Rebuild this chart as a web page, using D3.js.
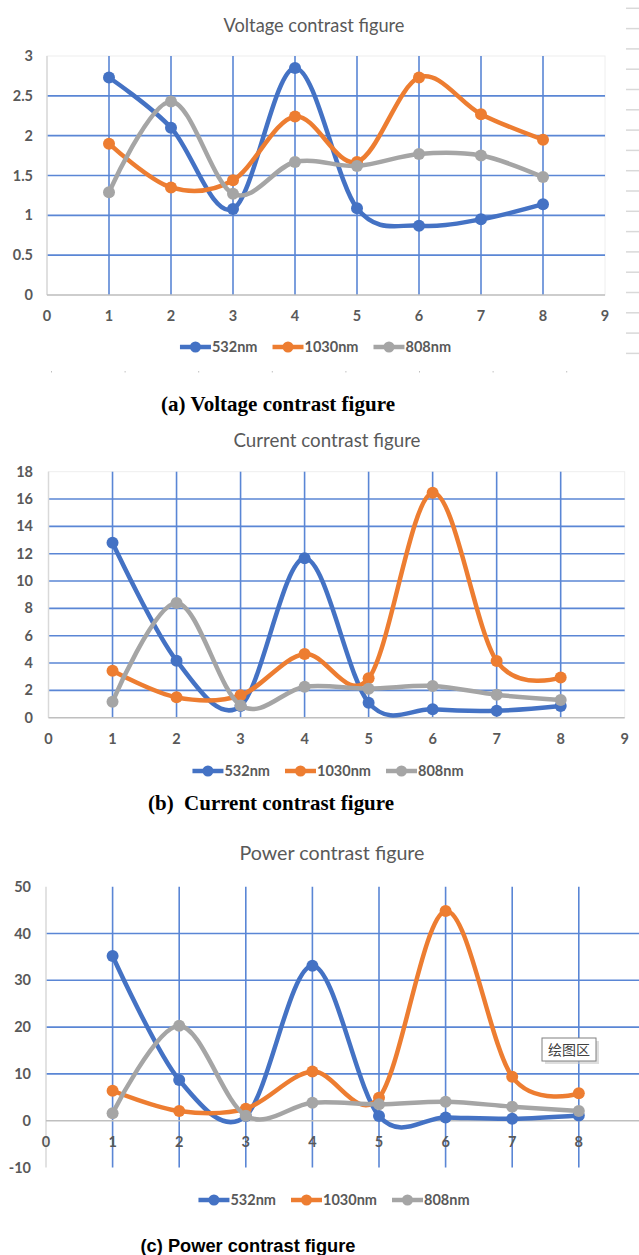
<!DOCTYPE html>
<html>
<head>
<meta charset="utf-8">
<script src="https://cdn.jsdelivr.net/npm/d3@7"></script>
<style>
  body { margin: 0; background: #fff; }
  svg { display: block; }
</style>
</head>
<body>
<script>
// values
var xValues = [1, 2, 3, 4, 5, 6, 7, 8];
var xTicks = [0, 1, 2, 3, 4, 5, 6, 7, 8, 9];
var seriesNames = ["532nm", "1030nm", "808nm"];

var voltage532 = [2.73, 2.10, 1.08, 2.85, 1.09, 0.87, 0.95, 1.14];
var voltage1030 = [1.90, 1.35, 1.44, 2.24, 1.67, 2.73, 2.27, 1.95];
var voltage808 = [1.29, 2.43, 1.27, 1.67, 1.62, 1.77, 1.75, 1.48];
var voltageTicks = [0, 0.5, 1, 1.5, 2, 2.5, 3];

var current532 = [12.8, 4.17, 0.86, 11.66, 1.1, 0.61, 0.51, 0.86];
var current1030 = [3.44, 1.49, 1.64, 4.66, 2.88, 16.46, 4.15, 2.95];
var current808 = [1.17, 8.39, 0.9, 2.27, 2.12, 2.32, 1.68, 1.3];
var currentTicks = [0, 2, 4, 6, 8, 10, 12, 14, 16, 18];

var power532 = [35.2, 8.7, 1.0, 33.1, 1.0, 0.7, 0.4, 1.1];
var power1030 = [6.4, 2.07, 2.57, 10.5, 4.9, 44.8, 9.4, 5.85];
var power808 = [1.57, 20.3, 1.07, 3.85, 3.5, 4.06, 3.0, 2.07];
var powerTicks = [-10, 0, 10, 20, 30, 40, 50];

var colors = ["#4472c4", "#ed7d31", "#a5a5a5"];
var gridColor = "#5a86d5";
var textGrey = "#595959";
var chartFont = "Lato, 'Open Sans', sans-serif";

var svg = d3.select("body").append("svg")
  .attr("width", 639)
  .attr("height", 1255);

function drawPanel(p) {
  var x = d3.scaleLinear().domain([0, 9]).range([p.x0, p.x9]);
  var yMin = p.yTicks[0], yMax = p.yTicks[p.yTicks.length - 1];
  var y = d3.scaleLinear().domain([yMin, yMax]).range([p.yBottom, p.yTop]);
  var g = svg.append("g");

  // title
  g.append("text")
    .attr("x", p.titleX).attr("y", p.titleY)
    .attr("text-anchor", "middle")
    .attr("font-family", chartFont)
    .attr("font-size", 19)
    .attr("fill", textGrey)
    .attr("textLength", p.titleLen).attr("lengthAdjust", "spacingAndGlyphs")
    .text(p.title);

  // faint plot area border
  if (p.border) {
    g.append("rect")
      .attr("x", x(0)).attr("y", y(yMax))
      .attr("width", x(9) - x(0)).attr("height", y(yMin) - y(yMax))
      .attr("fill", "none").attr("stroke", "#eeeeee").attr("stroke-width", 1);
  }

  // horizontal gridlines
  g.selectAll(".hgrid")
    .data(p.yTicks.filter(function(t) { return t !== 0 && t > yMin && t < yMax; }))
    .enter().append("line")
      .attr("x1", x(0)).attr("x2", x(9))
      .attr("y1", function(d) { return y(d); })
      .attr("y2", function(d) { return y(d); })
      .attr("stroke", gridColor).attr("stroke-width", 1.6);

  // vertical gridlines
  g.selectAll(".vgrid")
    .data(xValues)
    .enter().append("line")
      .attr("x1", function(d) { return x(d); })
      .attr("x2", function(d) { return x(d); })
      .attr("y1", y(yMax)).attr("y2", y(yMin))
      .attr("stroke", gridColor).attr("stroke-width", 1.6);

  // axes
  g.append("line")
    .attr("x1", x(0)).attr("x2", x(0))
    .attr("y1", y(yMax)).attr("y2", y(yMin))
    .attr("stroke", "#d9d9d9").attr("stroke-width", 1.5);
  g.append("line")
    .attr("x1", x(0)).attr("x2", x(9))
    .attr("y1", y(0)).attr("y2", y(0))
    .attr("stroke", "#bfbfbf").attr("stroke-width", 1.5);

  // y tick labels
  g.selectAll(".ylab")
    .data(p.yTicks)
    .enter().append("text")
      .attr("x", p.yLabelX)
      .attr("y", function(d) { return y(d) + 5; })
      .attr("text-anchor", "end")
      .attr("font-family", chartFont).attr("font-size", 14.5).attr("font-weight", "bold")
      .attr("fill", textGrey)
      .text(function(d) { return d; });

  // x tick labels
  g.selectAll(".xlab")
    .data(xTicks.filter(function(t) { return x(t) < 639; }))
    .enter().append("text")
      .attr("x", function(d) { return x(d); })
      .attr("y", p.xLabelY)
      .attr("text-anchor", "middle")
      .attr("font-family", chartFont).attr("font-size", 14.5).attr("font-weight", "bold")
      .attr("fill", textGrey)
      .text(function(d) { return d; });

  // series, smooth like excel
  var line = d3.line()
    .x(function(d, i) { return x(xValues[i]); })
    .y(function(d) { return y(d); })
    .curve(d3.curveCardinal.tension(0));

  p.series.forEach(function(values, k) {
    g.append("path")
      .attr("d", line(values))
      .attr("fill", "none")
      .attr("stroke", colors[k])
      .attr("stroke-width", 4.5)
      .attr("stroke-linecap", "round");
    g.selectAll(".dot" + k)
      .data(values)
      .enter().append("circle")
        .attr("cx", function(d, i) { return x(xValues[i]); })
        .attr("cy", function(d) { return y(d); })
        .attr("r", 6)
        .attr("fill", colors[k]);
  });

  // legend
  var legend = g.append("g");
  var cursor = 0;
  seriesNames.forEach(function(name, k) {
    var item = legend.append("g").attr("transform", "translate(" + cursor + ",0)");
    item.append("line")
      .attr("x1", 0).attr("x2", 31).attr("y1", 0).attr("y2", 0)
      .attr("stroke", colors[k]).attr("stroke-width", 4.5);
    item.append("circle").attr("cx", 15.5).attr("cy", 0).attr("r", 5.5).attr("fill", colors[k]);
    var t = item.append("text")
      .attr("x", 32).attr("y", 5)
      .attr("font-family", chartFont).attr("font-size", 14.5).attr("font-weight", "bold")
      .attr("fill", textGrey)
      .text(name);
    cursor += 32 + t.node().getComputedTextLength() + 15;
  });
  var legendWidth = cursor - 15;
  legend.attr("transform", "translate(" + (p.legendX - legendWidth / 2) + "," + p.legendY + ")");

  // caption under the chart
  g.append("text")
    .attr("x", p.capX).attr("y", p.capY)
    .attr("text-anchor", "middle")
    .attr("font-family", p.capFont)
    .attr("font-size", p.capSize)
    .attr("font-weight", "bold")
    .attr("fill", "#000")
    .attr("textLength", p.capLen).attr("lengthAdjust", "spacingAndGlyphs")
    .style("white-space", "pre")
    .text(p.caption);

  return { x: x, y: y, g: g };
}

// (a) voltage
drawPanel({
  title: "Voltage contrast figure", titleX: 314, titleY: 31.5, titleLen: 181,
  x0: 47, x9: 605, yTop: 56, yBottom: 295, yTicks: voltageTicks,
  yLabelX: 33, xLabelY: 320.5, border: true,
  series: [voltage532, voltage1030, voltage808],
  legendX: 315.5, legendY: 347,
  caption: "(a) Voltage contrast figure", capX: 278, capY: 411, capLen: 234,
  capFont: "'Liberation Serif', 'Times New Roman', serif", capSize: 21
});

// (b) current
drawPanel({
  title: "Current contrast figure", titleX: 327, titleY: 447, titleLen: 187,
  x0: 48.5, x9: 624.7, yTop: 471.7, yBottom: 717.7, yTicks: currentTicks,
  yLabelX: 33, xLabelY: 744, border: true,
  series: [current532, current1030, current808],
  legendX: 328, legendY: 771,
  caption: "(b)  Current contrast figure", capX: 271, capY: 810, capLen: 246,
  capFont: "'Liberation Serif', 'Times New Roman', serif", capSize: 21
});

// (c) power
drawPanel({
  title: "Power contrast figure", titleX: 332, titleY: 860, titleLen: 185,
  x0: 46, x9: 645.4, yTop: 886.7, yBottom: 1167.5, yTicks: powerTicks,
  yLabelX: 31, xLabelY: 1147, border: false,
  series: [power532, power1030, power808],
  legendX: 334, legendY: 1200,
  caption: "(c) Power contrast figure", capX: 248, capY: 1251.5, capLen: 215,
  capFont: "'Liberation Sans', Arial, sans-serif", capSize: 18
});

// excel "plot area" hover tip left in the screenshot
var tip = svg.append("g").attr("transform", "translate(542,1038)");
tip.append("rect").attr("x", 3).attr("y", 3).attr("width", 54).attr("height", 23)
  .attr("fill", "#c8c8c8").attr("opacity", 0.6);
tip.append("rect").attr("width", 54).attr("height", 23)
  .attr("fill", "#fff").attr("stroke", "#808080").attr("stroke-width", 1);
tip.append("text").attr("x", 27).attr("y", 16.5).attr("text-anchor", "middle")
  .attr("font-family", "'Noto Sans CJK SC', sans-serif").attr("font-size", 14)
  .attr("fill", "#404040")
  .text("绘图区");

// spreadsheet row borders peeking at the right edge of (a)
svg.selectAll(".rowline")
  .data(d3.range(18))
  .enter().append("line")
    .attr("x1", 626).attr("x2", 639)
    .attr("y1", function(d) { return 8.3 + d * 20.3; })
    .attr("y2", function(d) { return 8.3 + d * 20.3; })
    .attr("stroke", "#d9d9d9").attr("stroke-width", 1.5);

// column tick dots under legend (a)
svg.selectAll(".coldot")
  .data(d3.range(8))
  .enter().append("rect")
    .attr("x", function(d) { return 51 + d * 73.6; })
    .attr("y", 371)
    .attr("width", 1).attr("height", 1.5)
    .attr("fill", "#c0c0c0");
</script>
</body>
</html>
